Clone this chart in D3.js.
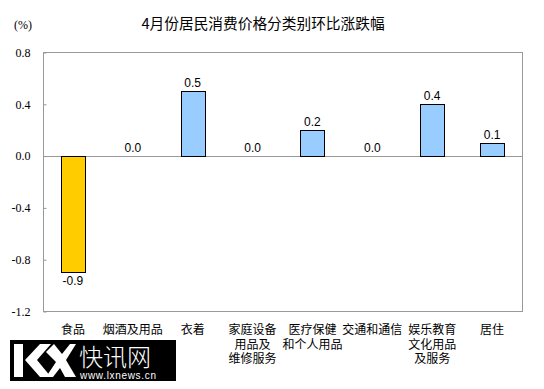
<!DOCTYPE html>
<html>
<head>
<meta charset="utf-8">
<script src="https://cdn.jsdelivr.net/npm/d3@7"></script>
<style>
  body { margin: 0; background: #fff; }
  svg { display: block; }
</style>
</head>
<body>
<div class="container"></div>
<script>
// data
const categories = ["食品", "烟酒及用品", "衣着", "家庭设备用品及维修服务", "医疗保健和个人用品", "交通和通信", "娱乐教育文化用品及服务", "居住"];
const labelLines = [["食品"], ["烟酒及用品"], ["衣着"], ["家庭设备", "用品及", "维修服务"], ["医疗保健", "和个人用品"], ["交通和通信"], ["娱乐教育", "文化用品", "及服务"], ["居住"]];
const values = [-0.9, 0.0, 0.5, 0.0, 0.2, 0.0, 0.4, 0.1];
const yTicks = [0.8, 0.4, 0.0, -0.4, -0.8, -1.2];

const width = 544;
const height = 389;
const plot = { left: 43, right: 522, top: 52, bottom: 311 };

// plain hyphen minus like the original
const fmt = d => d.toFixed(1);

const svg = d3.select("div.container")
  .append("svg")
  .attr("width", width)
  .attr("height", height);

const xScale = d3.scaleBand().domain(categories).range([plot.left, plot.right]);
const yScale = d3.scaleLinear().domain([-1.2, 0.8]).range([plot.bottom, plot.top]);
const barW = xScale.bandwidth() * 0.4;

// title
svg.append("text")
  .attr("x", 263).attr("y", 29)
  .attr("text-anchor", "middle")
  .style("font-family", "'Noto Sans CJK SC'")
  .style("font-size", "14.7px")
  .text("4月份居民消费价格分类别环比涨跌幅");

svg.append("text")
  .attr("x", 14).attr("y", 29)
  .style("font-family", "'Liberation Serif'")
  .style("font-size", "12px")
  .text("(%)");

// plot border
svg.append("rect")
  .attr("x", plot.left + 0.5).attr("y", plot.top + 0.5)
  .attr("width", plot.right - plot.left).attr("height", plot.bottom - plot.top)
  .attr("fill", "none").attr("stroke", "#999");

// y axis, ticks pointing inside
const yAxis = d3.axisLeft(yScale).tickValues(yTicks).tickSize(-3).tickPadding(13).tickFormat(fmt);
const gy = svg.append("g").attr("transform", `translate(${plot.left + 0.5},0.5)`).call(yAxis);
gy.select(".domain").remove();
gy.selectAll("line").attr("stroke", "#999");
gy.selectAll("text")
  .style("font-family", "'Liberation Serif'")
  .style("font-size", "12px")
  .attr("fill", "#000");

// zero line
svg.append("line")
  .attr("x1", plot.left).attr("x2", plot.right)
  .attr("y1", Math.round(yScale(0)) + 0.5).attr("y2", Math.round(yScale(0)) + 0.5)
  .attr("stroke", "#999");

// bars
svg.selectAll("rect.bar").data(values).enter().append("rect")
  .attr("class", "bar")
  .attr("x", (d, i) => Math.round(xScale(categories[i]) + (xScale.bandwidth() - barW) / 2) + 0.5)
  .attr("y", d => Math.round(yScale(Math.max(0, d))) + 0.5)
  .attr("width", Math.round(barW))
  .attr("height", d => Math.abs(Math.round(yScale(d)) - Math.round(yScale(0))))
  .attr("fill", d => d < 0 ? "#FFCC00" : "#99CCFF")
  .attr("stroke", "#000")
  .attr("stroke-width", 1);

// value labels
svg.selectAll("text.val").data(values).enter().append("text")
  .attr("class", "val")
  .attr("x", (d, i) => xScale(categories[i]) + xScale.bandwidth() / 2)
  .attr("y", d => d < 0 ? yScale(d) + 13 : yScale(d) - 4)
  .attr("text-anchor", "middle")
  .style("font-family", "'Liberation Sans'")
  .style("font-size", "12px")
  .text(fmt);

// category labels
const cat = svg.selectAll("text.cat").data(labelLines).enter().append("text")
  .attr("class", "cat")
  .attr("text-anchor", "middle")
  .style("font-family", "'Noto Sans CJK SC'")
  .style("font-size", "12px");
cat.selectAll("tspan").data((d, i) => d.map(s => ({ s, i }))).enter().append("tspan")
  .attr("x", d => xScale(categories[d.i]) + xScale.bandwidth() / 2)
  .attr("y", (d, j) => 334 + j * 14.5)
  .text(d => d.s);

// watermark logo
const logo = svg.append("g").attr("transform", "translate(10,340)");
logo.append("rect").attr("width", 166).attr("height", 41).attr("fill", "#000");
logo.append("path")
  .attr("d", "M4,4 h9 v33 h-9 z M15,20 L30,4 h11 L27,20 L41,37 h-11 z M36,12 L44,4 L52,14 L60,4 h6 L56,20 L66,37 h-11 L50,28 L43,37 h-7 L46,22 z")
  .attr("fill", "#fff");
logo.append("text")
  .attr("x", 69).attr("y", 26)
  .attr("fill", "#fff")
  .style("font-family", "'Noto Sans CJK SC'")
  .style("font-size", "24px")
  .style("font-weight", "300")
  .text("快讯网");
logo.append("text")
  .attr("x", 70).attr("y", 39)
  .attr("fill", "#fff")
  .style("font-family", "'Liberation Sans'")
  .style("font-size", "10px")
  .attr("textLength", 76)
  .text("www.lxnews.cn");
</script>
</body>
</html>
